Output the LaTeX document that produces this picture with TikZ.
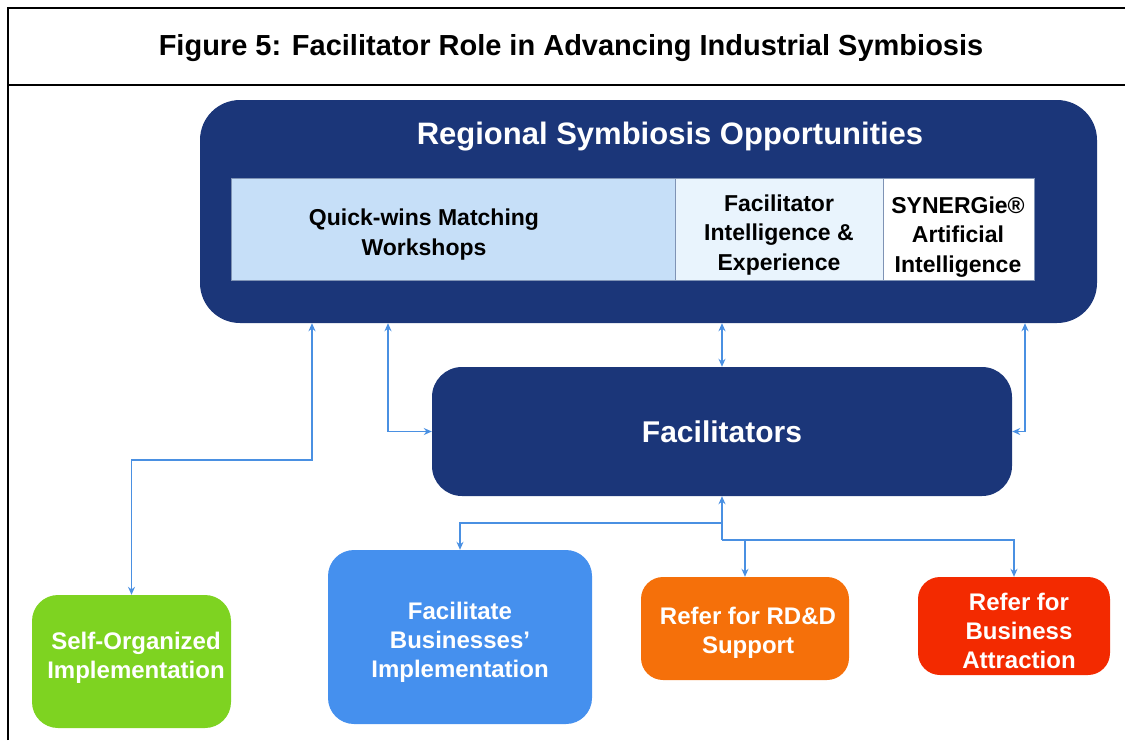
\documentclass[tikz,border=0pt]{standalone}
\usepackage{fontspec}
\setmainfont{Liberation Sans}
\usepackage{xcolor}
\usetikzlibrary{arrows.meta,positioning}

\definecolor{navy}{HTML}{1B3679}
\definecolor{cellblue}{HTML}{C6DFF8}
\definecolor{cellpale}{HTML}{E9F4FD}
\definecolor{cellline}{HTML}{7F93B5}
\definecolor{linkblue}{HTML}{4A90E2}
\definecolor{selfgreen}{HTML}{7ED321}
\definecolor{facilblue}{HTML}{4590EE}
\definecolor{rddorange}{HTML}{F5700A}
\definecolor{attractred}{HTML}{F32A00}

\begin{document}
\begin{tikzpicture}[
    x=1pt, y=-1pt,
    >={Stealth[length=8pt,width=7pt]},
    every node/.style={text centered, align=center, font=\bfseries},
    frame/.style={draw=black, line width=1.8pt},
    region/.style={fill=navy, rounded corners=40pt},
    cell/.style={draw=cellline, line width=0.8pt},
    celltext/.style={font=\bfseries\fontsize{23}{29.5}\selectfont},
    hub/.style={fill=navy, rounded corners=30pt, text=white, font=\bfseries\fontsize{30}{34}\selectfont},
    outcome/.style={rounded corners=26pt},
    outcometext/.style={text=white, font=\bfseries\fontsize{24}{29}\selectfont},
    link/.style={draw=linkblue, line width=1.4pt}
]
\useasboundingbox (0,0) rectangle (1125,740);

% Frame and heading
\draw[frame] (8,740) -- (8,8) -- (1125,8);
\draw[frame] (8,85) -- (1125,85);
\node[font=\bfseries\fontsize{29}{34}\selectfont] (heading) at (571,48) {Figure 5: Facilitator Role in Advancing Industrial Symbiosis};

% Regional opportunities
\node[region, minimum width=897pt, minimum height=223pt] (region) at (648.5,211.5) {};
\node[text=white, font=\bfseries\fontsize{31}{36}\selectfont] (regtitle) at (670,137) {Regional Symbiosis Opportunities};

% Opportunity sources
\node[cell, fill=cellblue, minimum width=444pt, minimum height=102pt] (quick) at (453,229) {};
\node[cell, fill=cellpale, minimum width=208pt, minimum height=102pt] (intel) at (779,229) {};
\node[cell, fill=white, minimum width=151pt, minimum height=102pt] (synergie) at (958.5,229) {};
\node[celltext] (quicktext) at (424,234.5) {Quick-wins Matching\\Workshops};
\node[celltext] (inteltext) at (779,235) {Facilitator\\Intelligence \&\\Experience};
\node[celltext] (synergietext) at (958,237) {SYNERGie®\\Artificial\\Intelligence};

% Facilitators
\node[hub, minimum width=580pt, minimum height=129pt] (hub) at (722,431.5) {Facilitators};

% Outcomes
\node[outcome, fill=selfgreen, minimum width=199pt, minimum height=133pt] (selforg) at (131.5,661.5) {};
\node[outcome, fill=facilblue, minimum width=264pt, minimum height=174pt] (facil) at (460,637) {};
\node[outcome, fill=rddorange, rounded corners=22pt, minimum width=208pt, minimum height=103pt] (rdd) at (745,628.5) {};
\node[outcome, fill=attractred, rounded corners=22pt, minimum width=192pt, minimum height=98pt] (attract) at (1014,626) {};
\node[outcometext] (selforgtext) at (136,657.5) {Self-Organized\\Implementation};
\node[outcometext] (faciltext) at (460,642) {Facilitate\\Businesses’\\Implementation};
\node[outcometext] (rddtext) at (748,633) {Refer for RD\&D\\Support};
\node[outcometext] (attracttext) at (1019,631) {Refer for\\Business\\Attraction};

% Connections
\draw[link, <->] (region.south -| 312,0) -- (312,460) -| (selforg.north);
\draw[link, <->] (region.south -| 388,0) |- (hub.west);
\draw[link, <->] (hub.north) -- (hub.north |- region.south);
\draw[link, <->] (region.south -| 1025,0) |- (hub.east);

\draw[link, ->] (hub.south |- 0,540) -- (hub.south);
\draw[link, ->] (hub.south |- 0,523) -| (facil.north);
\draw[link, ->] (hub.south |- 0,540) -| (rdd.north);
\draw[link, ->] (hub.south |- 0,540) -| (attract.north);

\end{tikzpicture}
\end{document}
